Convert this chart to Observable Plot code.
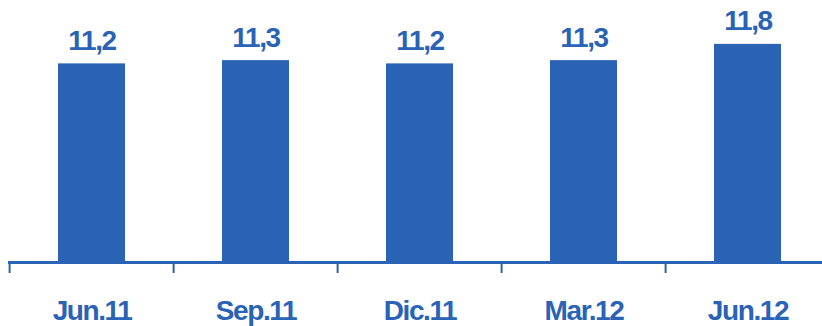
<!DOCTYPE html>
<html>
<head>
<meta charset="utf-8">
<script src="https://cdn.jsdelivr.net/npm/d3@7"></script>
<script src="https://cdn.jsdelivr.net/npm/@observablehq/plot@0.6"></script>
<style>
  html, body { margin: 0; padding: 0; background: #fff; overflow: hidden; }
</style>
</head>
<body>
<div id="chart"></div>
<script>
const categories = ["Jun.11", "Sep.11", "Dic.11", "Mar.12", "Jun.12"];
const values = [11.2, 11.3, 11.2, 11.3, 11.8];

const blue = "#2a63b6";
const yMin = 5.09, yMax = 13.15;
const data = categories.map((c, i) => ({cat: c, value: values[i], label: values[i].toFixed(1).replace(".", ",")}));
const xStart = 8, xEnd = 832;
const step = (xEnd - xStart) / categories.length;

const chart = Plot.plot({
  width: 822,
  height: 326,
  marginLeft: 8,
  marginRight: 0,
  marginTop: 0,
  marginBottom: 64,
  style: {fontFamily: "'Liberation Sans', Arial, sans-serif", fontWeight: "bold", background: "#fff"},
  x: {domain: categories, range: [xStart, xEnd], paddingInner: 0.59, paddingOuter: 0.295, axis: null, label: null},
  y: {domain: [yMin, yMax], clamp: true, axis: null},
  marks: [
    Plot.barY(data, {x: "cat", y: "value", fill: blue}),
    Plot.ruleY([yMin], {stroke: blue, strokeWidth: 3}),
    Plot.axisX({tickSize: 11, tickFormat: () => "", dx: -step / 2, stroke: blue, strokeWidth: 2, label: null}),
    Plot.axisX({tickSize: 0, tickPadding: 38, fontSize: 28, fill: blue, fontWeight: "bold", label: null, style: {letterSpacing: "-1.5px"}}),
    Plot.text(data, {x: "cat", y: "value", text: "label", lineAnchor: "bottom", dy: -14, fontSize: 28, fill: blue, fontWeight: "bold", style: {letterSpacing: "-1.3px"}})
  ]
});
chart.querySelectorAll("text").forEach(t => t.style.letterSpacing = "-1.4px");
document.getElementById("chart").appendChild(chart);
</script>
</body>
</html>
